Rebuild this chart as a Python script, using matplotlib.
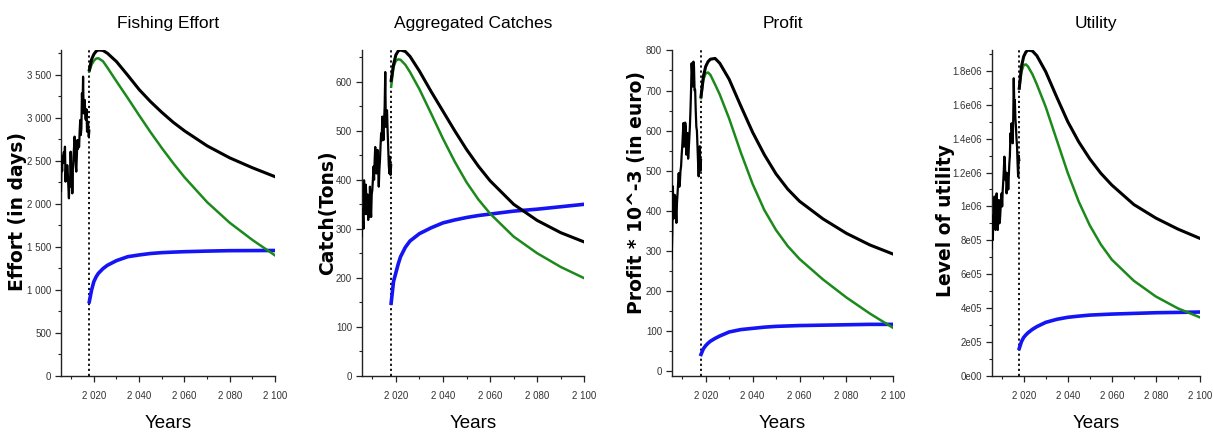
"""Four-panel bio-economic projection: effort, catches, profit and utility, 2005-2100."""

import matplotlib
matplotlib.use("Agg")
import matplotlib.pyplot as plt
from matplotlib.ticker import FuncFormatter, MultipleLocator, AutoMinorLocator

NARROW = ["Liberation Sans Narrow", "Liberation Sans", "DejaVu Sans"]
BOLD = ["DejaVu Sans"]

# ---- observed period (black, noisy) ---------------------------------------
hist_years = [2005.5, 2005.75, 2006.0, 2006.25, 2006.5, 2006.75, 2007.0, 2007.25,
              2007.5, 2007.75, 2008.0, 2008.25, 2008.5, 2008.75, 2009.0, 2009.25,
              2009.5, 2009.75, 2010.0, 2010.25, 2010.5, 2010.75, 2011.0, 2011.25,
              2011.5, 2011.75, 2012.0, 2012.25, 2012.5, 2012.75, 2013.0, 2013.25,
              2013.5, 2013.75, 2014.0, 2014.25, 2014.5, 2014.75, 2015.0, 2015.25,
              2015.5, 2015.75, 2016.0, 2016.25, 2016.5, 2016.75, 2017.0, 2017.25,
              2017.5, 2017.75, 2018.0]

hist_effort = [2150, 2500, 2380, 2560, 2480, 2600, 2520, 2665, 2258, 2420, 2300, 2450,
               2355, 2200, 2064, 2300, 2200, 2607, 2350, 2450, 2122, 2400, 2549, 2650,
               2782, 2600, 2450, 2375, 2560, 2743, 2640, 2700, 2665, 2850, 2976, 2800,
               2879, 3286, 3100, 3480, 3053, 3150, 3209, 3000, 2976, 3100, 2840, 2960,
               2937, 2780, 2850]
hist_catch = [285, 340, 331, 300, 399, 360, 330, 390, 358, 330, 370, 318, 340, 325, 386,
              350, 324, 370, 379, 400, 427, 400, 440, 467, 430, 413, 450, 461, 420, 386,
              420, 440, 470, 495, 480, 529, 500, 481, 520, 549, 620, 508, 540, 542, 500,
              467, 430, 413, 447, 410, 430]
hist_profit = [280, 345, 461, 380, 395, 440, 436, 400, 370, 420, 444, 470, 494, 460, 473,
               500, 511, 540, 561, 590, 619, 560, 577, 620, 610, 540, 580, 594, 530, 552,
               580, 610, 650, 700, 768, 740, 710, 772, 760, 700, 702, 650, 610, 600, 561,
               520, 486, 530, 561, 500, 527]
hist_utility = [752e3, 920e3, 801e3, 950e3, 880e3, 1058e3, 960e3, 861e3, 980e3, 1077e3,
                940e3, 861e3, 960e3, 1038e3, 900e3, 920e3, 980e3, 1040e3, 1077e3, 1000e3,
                1097e3, 1150e3, 1215e3, 1294e3, 1250e3, 1156e3, 1200e3, 1077e3, 1130e3,
                1195e3, 1100e3, 1180e3, 1254e3, 1300e3, 1432e3, 1380e3, 1491e3, 1440e3,
                1373e3, 1500e3, 1757e3, 1600e3, 1629e3, 1520e3, 1471e3, 1400e3, 1353e3,
                1250e3, 1176e3, 1300e3, 1274e3]

# ---- projections (black / green / blue scenarios) -------------------------
proj_years = [2018, 2019, 2020, 2021, 2022, 2024, 2026, 2030, 2035, 2040, 2045, 2050,
              2055, 2060, 2070, 2080, 2090, 2100]

effort_black = [3558, 3680, 3740, 3775, 3790, 3785, 3752, 3655, 3495, 3330, 3190, 3065,
                2950, 2850, 2675, 2535, 2420, 2316]
effort_green = [3540, 3620, 3665, 3690, 3694, 3660, 3585, 3425, 3230, 3030, 2835, 2650,
                2475, 2310, 2020, 1780, 1580, 1400]
effort_blue = [861, 997, 1094, 1150, 1191, 1245, 1285, 1339, 1385, 1405, 1422, 1432,
               1438, 1443, 1450, 1455, 1456, 1457]

catch_black = [603, 635, 655, 663, 665, 662, 652, 622, 580, 540, 500, 462, 428, 398, 350,
               317, 292, 273]
catch_green = [590, 630, 643, 646, 645, 635, 620, 585, 535, 484, 437, 395, 360, 331, 284,
               250, 222, 199]
catch_blue = [148, 192, 210, 228, 243, 262, 275, 290, 302, 312, 318, 323, 327, 330, 336,
              340, 345, 350]

profit_black = [685, 735, 760, 772, 778, 780, 768, 728, 661, 596, 540, 492, 454, 424, 380,
                344, 315, 292]
profit_green = [681, 727, 743, 745, 739, 715, 690, 630, 545, 467, 402, 352, 312, 280, 229,
                184, 144, 108]
profit_blue = [42, 56, 64, 70, 75, 82, 88, 98, 104, 107, 110, 112, 113, 114, 115, 116,
               117, 117]

utility_black = [1.698e6, 1.826e6, 1.885e6, 1.912e6, 1.924e6, 1.918e6, 1.890e6, 1.796e6,
                 1.646e6, 1.501e6, 1.381e6, 1.281e6, 1.196e6, 1.126e6, 1.011e6, 0.931e6,
                 0.866e6, 0.811e6]
utility_green = [1.698e6, 1.796e6, 1.835e6, 1.839e6, 1.826e6, 1.78e6, 1.72e6, 1.588e6,
                 1.393e6, 1.198e6, 1.028e6, 0.888e6, 0.7755e6, 0.6855e6, 0.5605e6,
                 0.4675e6, 0.3975e6, 0.3445e6]
utility_blue = [0.161e6, 0.201e6, 0.226e6, 0.241e6, 0.254e6, 0.274e6, 0.290e6, 0.315e6,
                0.333e6, 0.345e6, 0.352e6, 0.358e6, 0.361e6, 0.364e6, 0.368e6, 0.372e6,
                0.374e6, 0.376e6]

titles = ["Fishing Effort", "Aggregated Catches", "Profit", "Utility"]
ylabels = ["Effort (in days)", "Catch(Tons)", "Profit * 10^-3 (in euro)", "Level of utility"]


def spaced(v, _pos=None):
    # "3 500", "2 020" style thousands separator
    return f"{int(round(v)):,}".replace(",", " ")


def sci(v, _pos=None):
    # "1.8e06", "1e06", "0e00"
    if v == 0:
        return "0e00"
    m, e = f"{v:.1e}".split("e")
    m = m.rstrip("0").rstrip(".")
    return f"{m}e{int(e):02d}"


def main():
    fig = plt.figure(figsize=(12.13, 4.34), dpi=100)
    H = 434.0
    W = 1213.0
    # (left, right) in pixels for each panel; shared bottom/top
    xs = [(61, 275), (361.7, 584.3), (671.7, 893.3), (991.7, 1200)]
    bottom, top = 375.7, 50.0

    panels = [
        (hist_effort, effort_black, effort_green, effort_blue, (0, 3790), 500, spaced),
        (hist_catch, catch_black, catch_green, catch_blue, (0, 665), 100, spaced),
        (hist_profit, profit_black, profit_green, profit_blue, (-11, 801), 100, spaced),
        (hist_utility, utility_black, utility_green, utility_blue, (0, 1.924e6), 2e5, sci),
    ]
    ylab_x = [-0.16, -0.112, -0.117, -0.176]
    ylab_y = [0.505, 0.5, 0.562, 0.478]

    for i, (hist, blk, grn, blu, ylim, step, fmt) in enumerate(panels):
        l, r = xs[i]
        ax = fig.add_axes([l / W, (H - bottom) / H, (r - l) / W, (bottom - top) / H])

        ax.plot(hist_years, hist, color="black", lw=1.6, zorder=3)
        ax.plot(proj_years, blu, color="#1414f5", lw=2.6, zorder=3)
        ax.plot(proj_years, grn, color="#1b8a1b", lw=1.8, zorder=4)
        ax.plot(proj_years, blk, color="black", lw=2.2, zorder=5)
        ax.axvline(2018, color="black", ls=(0, (1.2, 1.6)), lw=1.3, zorder=2)

        ax.set_xlim(2005.5, 2100)
        ax.set_ylim(*ylim)
        ax.xaxis.set_major_locator(MultipleLocator(20))
        ax.xaxis.set_minor_locator(MultipleLocator(10))
        ax.yaxis.set_major_locator(MultipleLocator(step))
        ax.yaxis.set_minor_locator(AutoMinorLocator(2))
        ax.xaxis.set_major_formatter(FuncFormatter(spaced))
        ax.yaxis.set_major_formatter(FuncFormatter(fmt))

        for s in ("top", "right"):
            ax.spines[s].set_visible(False)
        for s in ("left", "bottom"):
            ax.spines[s].set_linewidth(1.0)
            ax.spines[s].set_color("#222222")
        ax.tick_params(which="major", length=4, width=0.9, color="#222222",
                       labelsize=7, labelcolor="#333333", pad=3)
        ax.tick_params(which="minor", length=2.5, width=0.8, color="#222222")
        for lab in ax.get_xticklabels() + ax.get_yticklabels():
            lab.set_family(NARROW)
        ax.tick_params(axis="x", pad=7)

        ax.set_title(titles[i], family=NARROW, fontsize=12.5, pad=16)
        ax.set_xlabel("Years", family=NARROW, fontsize=13.5)
        ax.xaxis.set_label_coords(0.5, -0.12)
        ax.set_ylabel(ylabels[i], family=BOLD, fontweight="bold", fontsize=13.5)
        ax.yaxis.set_label_coords(ylab_x[i], ylab_y[i])

    fig.savefig("out.png", dpi=100)


if __name__ == "__main__":
    main()
